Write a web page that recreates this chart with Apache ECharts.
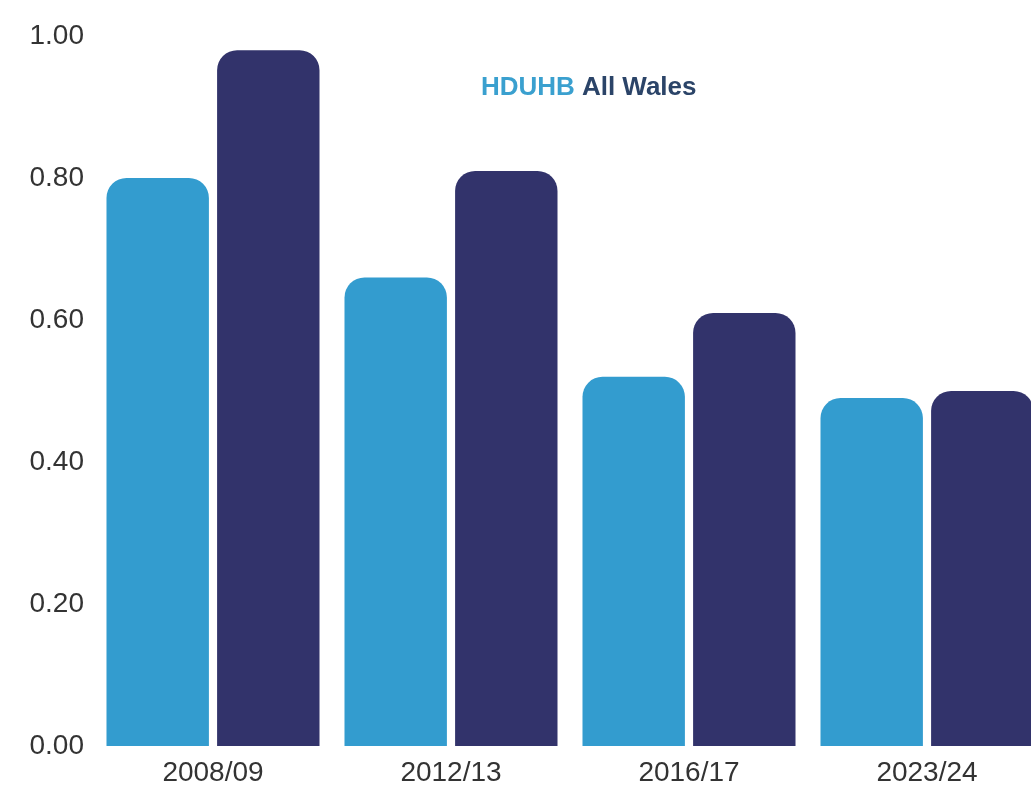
<!DOCTYPE html>
<html><head><meta charset="utf-8">
<script src="https://cdn.jsdelivr.net/npm/echarts@6/dist/echarts.min.js"></script>
<style>html,body{margin:0;padding:0;background:#fff}#c{width:1031px;height:786px}</style>
</head><body><div id="c"></div>
<script>
const categories = ['2008/09', '2012/13', '2016/17', '2023/24'];
const hduhb = [0.80, 0.66, 0.52, 0.49];
const allWales = [0.98, 0.81, 0.61, 0.50];
const seriesNames = ['HDUHB', 'All Wales'];

const chart = echarts.init(document.getElementById('c'), null, {renderer: 'canvas'});
chart.setOption({
  backgroundColor: '#ffffff',
  animation: false,
  textStyle: {fontFamily: 'Liberation Sans, Arial, sans-serif'},
  legend: {
    top: 70, left: 471,
    icon: 'none', itemWidth: 0, itemGap: 2,
    data: [
      {name: seriesNames[0], textStyle: {color: '#3AA0CF'}},
      {name: seriesNames[1], textStyle: {color: '#2B4468'}}
    ],
    textStyle: {fontSize: 26, fontWeight: 'bold', fontFamily: 'Liberation Sans, Arial, sans-serif'}
  },
  grid: {left: 94, top: 36, width: 952, bottom: 40, containLabel: false, outerBoundsMode: 'none'},
  xAxis: {
    type: 'category', data: categories,
    axisLine: {show: false}, axisTick: {show: false},
    axisLabel: {fontSize: 28, color: '#333', margin: 13}
  },
  yAxis: {
    type: 'value', min: 0, max: 1, interval: 0.2,
    splitLine: {show: false}, axisLine: {show: false}, axisTick: {show: false},
    axisLabel: {fontSize: 28, color: '#333', margin: 10, formatter: v => v.toFixed(2)}
  },
  series: [
    {name: seriesNames[0], type: 'bar', data: hduhb, barGap: '8%', barCategoryGap: '10.5%',
     itemStyle: {color: '#339CCF', borderRadius: [20, 20, 0, 0]}},
    {name: seriesNames[1], type: 'bar', data: allWales,
     itemStyle: {color: '#32336B', borderRadius: [20, 20, 0, 0]}}
  ]
});
</script></body></html>
